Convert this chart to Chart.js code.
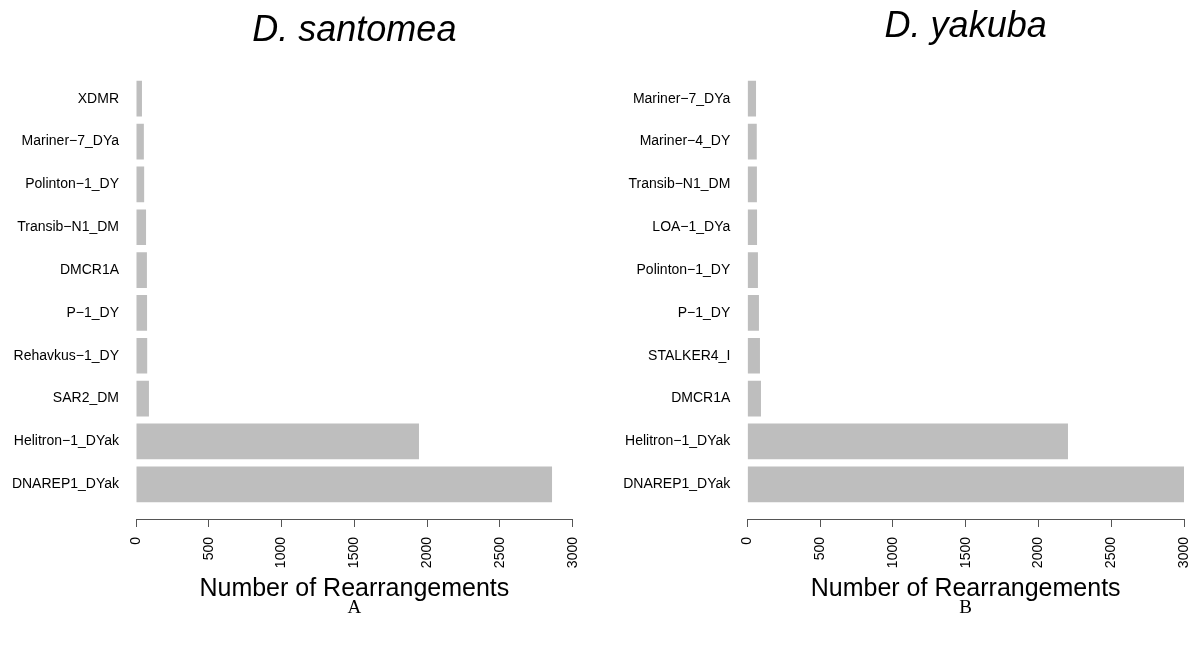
<!DOCTYPE html>
<html>
<head>
<meta charset="utf-8">
<script src="https://cdn.jsdelivr.net/npm/chart.js@4"></script>
<style>
  html, body { margin: 0; padding: 0; background: #ffffff; }
  #wrap { position: relative; width: 1195px; height: 650px; overflow: hidden; }
  canvas { position: absolute; top: 0; }
</style>
</head>
<body>
<div id="wrap">
  <canvas id="panelA" width="597" height="650" style="left:0px"></canvas>
  <canvas id="panelB" width="598" height="650" style="left:597px"></canvas>
</div>
<script>
// Transposable element families, listed bottom-to-top as drawn in each panel
const familiesSantomea = ['DNAREP1_DYak', 'Helitron-1_DYak', 'SAR2_DM', 'Rehavkus-1_DY', 'P-1_DY',
                          'DMCR1A', 'Transib-N1_DM', 'Polinton-1_DY', 'Mariner-7_DYa', 'XDMR'];
const rearrangementsSantomea = [2858, 1944, 89, 77, 76, 75, 69, 56, 54, 41];

const familiesYakuba = ['DNAREP1_DYak', 'Helitron-1_DYak', 'DMCR1A', 'STALKER4_I', 'P-1_DY',
                        'Polinton-1_DY', 'LOA-1_DYa', 'Transib-N1_DM', 'Mariner-4_DY', 'Mariner-7_DYa'];
const rearrangementsYakuba = [3000, 2203, 94, 87, 80, 73, 67, 66, 65, 60];

// Count axis tick values
const countTicks = [0, 500, 1000, 1500, 2000, 2500, 3000];

const SANS = "'Liberation Sans', Arial, Helvetica, sans-serif";
const SERIF = "'Liberation Serif', 'Times New Roman', serif";
const AXIS_GREY = '#555555';
const BAR_GREY = '#bebebe';

// names are typeset with a true minus sign, as R's graphics device does
const typeset = (name) => name.replace(/-/g, '\u2212');

function makePanel(canvasId, species, tag, families, counts, layout) {
  const n = families.length;
  // base-R barplot spacing: bars 1 wide, gap 0.2, 4% range extension
  const edge = 0.81;
  return new Chart(document.getElementById(canvasId), {
    type: 'bar',
    data: {
      datasets: [{
        data: counts.map((v, i) => ({ x: v, y: i })),
        backgroundColor: BAR_GREY,
        borderWidth: 0,
        categoryPercentage: 1,
        barPercentage: 1 / 1.2
      }]
    },
    options: {
      indexAxis: 'y',
      responsive: false,
      animation: false,
      devicePixelRatio: 1,
      layout: { padding: { left: 0, right: layout.rightPad, top: 0, bottom: 0 } },
      plugins: {
        legend: { display: false },
        tooltip: { enabled: false },
        title: {
          display: true,
          fullSize: false,
          text: species,
          color: '#000000',
          font: { family: SANS, size: 36, style: 'italic', weight: 'normal' },
          padding: { top: layout.titleTop, bottom: layout.titleBottom }
        },
        subtitle: {
          display: true,
          fullSize: false,
          text: tag,
          position: 'bottom',
          color: '#000000',
          font: { family: SERIF, size: 19, weight: 'normal' },
          padding: { top: 8, bottom: 30.2 }
        }
      },
      scales: {
        x: {
          type: 'linear',
          position: 'bottom',
          min: countTicks[0],
          max: countTicks[countTicks.length - 1],
          afterBuildTicks: (s) => { s.ticks = countTicks.map(v => ({ value: v })); },
          grid: { drawOnChartArea: false, drawTicks: true, tickLength: 8, color: AXIS_GREY, lineWidth: 1 },
          border: { display: true, color: AXIS_GREY, width: 1 },
          ticks: {
            autoSkip: false,
            minRotation: 90,
            maxRotation: 90,
            padding: 10,
            color: '#000000',
            font: { family: SANS, size: 14 },
            callback: (v) => String(v)
          },
          title: {
            display: true,
            text: 'Number of Rearrangements',
            color: '#000000',
            font: { family: SANS, size: 25 },
            padding: { top: 0, bottom: -15.3 }
          },
          afterFit: (s) => { s.height = 70; s.paddingLeft = 0; s.paddingRight = 0; }
        },
        y: {
          type: 'linear',
          offset: false,
          min: -edge,
          max: (n - 1) + edge,
          afterBuildTicks: (s) => { s.ticks = families.map((_, i) => ({ value: i })); },
          grid: { display: false, drawTicks: false, offset: false },
          border: { display: false },
          ticks: {
            padding: 17,
            color: '#000000',
            font: { family: SANS, size: 14 },
            callback: (v) => typeset(families[v])
          },
          afterFit: (s) => { s.width = layout.axisWidth; s.paddingTop = 0; s.paddingBottom = 0; }
        }
      }
    }
  });
}

makePanel('panelA', 'D. santomea', 'A', familiesSantomea, rearrangementsSantomea,
          { axisWidth: 136, rightPad: 24.3, titleTop: 9, titleBottom: 11.8 });
makePanel('panelB', 'D. yakuba', 'B', familiesYakuba, rearrangementsYakuba,
          { axisWidth: 150.3, rightPad: 11, titleTop: 5, titleBottom: 15.8 });
</script>
</body>
</html>
